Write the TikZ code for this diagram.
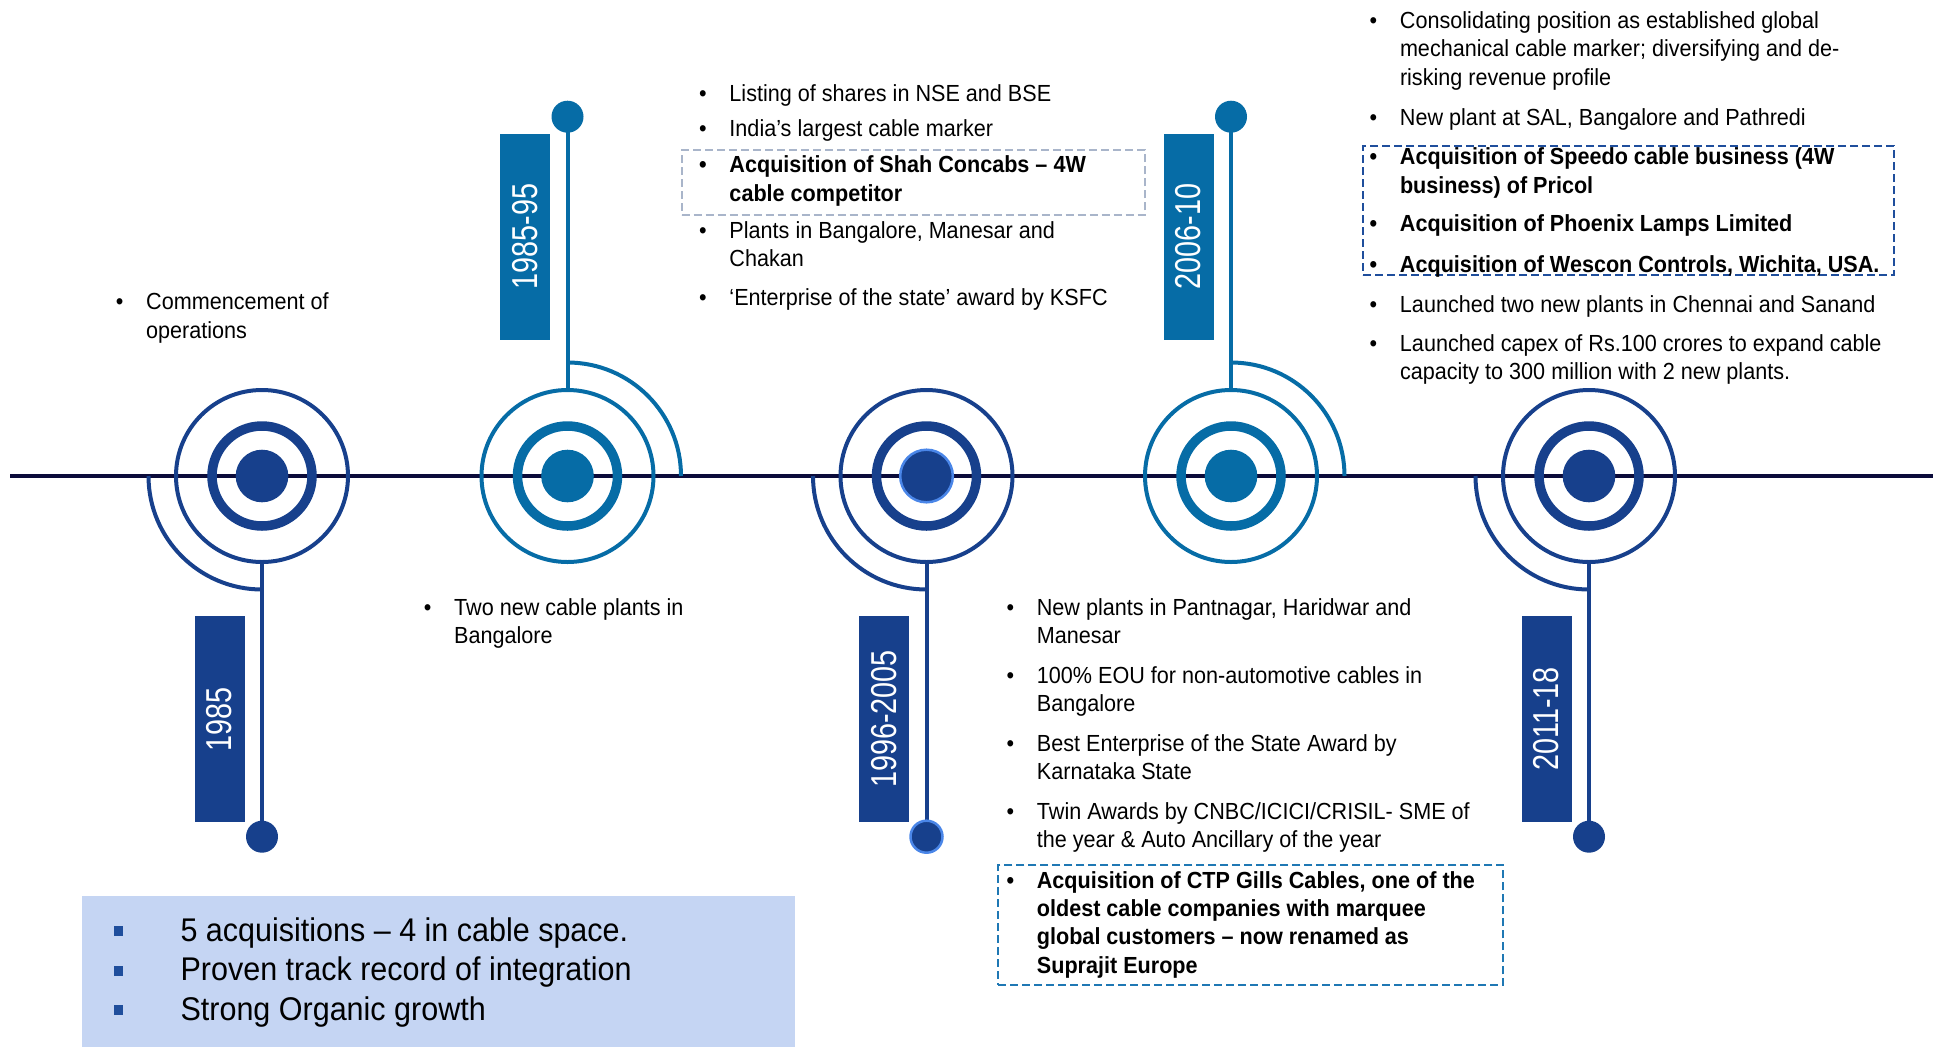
\documentclass[tikz,border=0pt]{standalone}
\usepackage{fontspec}
\setmainfont{Liberation Sans}
\usepackage{graphicx}
\definecolor{cdark}{HTML}{17408C}
\definecolor{cteal}{HTML}{066CA6}
\definecolor{cline}{HTML}{0B0B3A}
\definecolor{clight}{HTML}{4A86E8}
\definecolor{cbox}{HTML}{C5D5F3}
\definecolor{cdashA}{HTML}{A9B5CA}
\definecolor{cdashB}{HTML}{1F4E9C}
\definecolor{cdashC}{HTML}{1F78B4}
\definecolor{csq}{HTML}{1F4E9C}
\newcommand\bodyfont{\fontsize{23.3pt}{28.3pt}\selectfont}
\newcommand\bigfont{\fontsize{32.8pt}{39.5pt}\selectfont}
\newcommand\lblfont{\fontsize{36pt}{40pt}\selectfont}
\newcommand\bulletmark{\leavevmode\llap{\textbullet\hspace{24.5pt}}}
\newcommand\squaremark{\leavevmode\llap{\textcolor{csq}{\rule[5pt]{9.5pt}{10pt}}\hspace{62pt}}}
\begin{document}
\begin{tikzpicture}[x=1pt,y=-1pt,
  ringout/.style={circle, draw, line width=4pt, minimum size=172pt, inner sep=0pt, outer sep=0pt},
  ringmid/.style={circle, draw, line width=9.5pt, minimum size=100pt, inner sep=0pt, outer sep=0pt},
  core/.style={circle, fill, minimum size=52.6pt, inner sep=0pt},
  enddot/.style={circle, fill, minimum size=32pt, inner sep=0pt},
  stem/.style={line width=4pt},
  lbl/.style={rotate=90, minimum width=206pt, minimum height=50pt, inner sep=0pt, text=white, font=\lblfont},
  dbox/.style={rectangle, dash pattern=on 8pt off 4pt, line width=2pt, inner sep=0pt, anchor=north west},
  txtitem/.style={anchor=north west, yshift=19.81pt, inner sep=0pt, align=left, font=\bodyfont, xscale=0.927},
]
\useasboundingbox (0,0) rectangle (1933,1047);

% timeline
\coordinate (tlA) at (10,476);
\coordinate (tlB) at (1933,476);
\draw[cline, line width=4.5pt] (tlA) -- (tlB);

% milestone 1 : 1985
\node[ringout, draw=cdark] (o1) at (262,476) {};
\node[ringmid, draw=cdark] (m1) at (262,476) {};
\node[core, fill=cdark] (c1) at (262,476) {};
\node[enddot, fill=cdark] (e1) at (262,836.7) {};
\draw[stem, cdark] (o1.south) -- (e1.center);
\draw[stem, cdark] ([xshift=-113.5pt]o1.center) arc[start angle=180, end angle=90, radius=113.5];
\node[lbl, fill=cdark] (l1) at (219.5,719) {\scalebox{0.8}[1]{1985}};

% milestone 2 : 1985-95
\node[ringout, draw=cteal] (o2) at (567.5,476) {};
\node[ringmid, draw=cteal] (m2) at (567.5,476) {};
\node[core, fill=cteal] (c2) at (567.5,476) {};
\node[enddot, fill=cteal] (e2) at (567.5,116.7) {};
\draw[stem, cteal] (o2.north) -- (e2.center);
\draw[stem, cteal] ([yshift=113.5pt]o2.center) arc[start angle=270, end angle=360, radius=113.5];
\node[lbl, fill=cteal] (l2) at (525,236.7) {\scalebox{0.8}[1]{1985-95}};

% milestone 3 : 1996-2005
\node[ringout, draw=cdark] (o3) at (926.5,476) {};
\node[ringmid, draw=cdark] (m3) at (926.5,476) {};
\node[core, fill=cdark, draw=clight, line width=2.5pt] (c3) at (926.5,476) {};
\node[enddot, fill=cdark] (e3) at (926.5,836.7) {};
\draw[stem, cdark] (o3.south) -- (e3.center);
\node[enddot, fill=cdark, draw=clight, line width=2.5pt] (e3b) at (e3) {};
\draw[stem, cdark] ([xshift=-113.5pt]o3.center) arc[start angle=180, end angle=90, radius=113.5];
\node[lbl, fill=cdark] (l3) at (884,719) {\scalebox{0.8}[1]{1996-2005}};

% milestone 4 : 2006-10
\node[ringout, draw=cteal] (o4) at (1231,476) {};
\node[ringmid, draw=cteal] (m4) at (1231,476) {};
\node[core, fill=cteal] (c4) at (1231,476) {};
\node[enddot, fill=cteal] (e4) at (1231,116.7) {};
\draw[stem, cteal] (o4.north) -- (e4.center);
\draw[stem, cteal] ([yshift=113.5pt]o4.center) arc[start angle=270, end angle=360, radius=113.5];
\node[lbl, fill=cteal] (l4) at (1188.5,236.5) {\scalebox{0.8}[1]{2006-10}};

% milestone 5 : 2011-18
\node[ringout, draw=cdark] (o5) at (1589,476) {};
\node[ringmid, draw=cdark] (m5) at (1589,476) {};
\node[core, fill=cdark] (c5) at (1589,476) {};
\node[enddot, fill=cdark] (e5) at (1589,836.7) {};
\draw[stem, cdark] (o5.south) -- (e5.center);
\draw[stem, cdark] ([xshift=-113.5pt]o5.center) arc[start angle=180, end angle=90, radius=113.5];
\node[lbl, fill=cdark] (l5) at (1546.5,719) {\scalebox{0.8}[1]{2011-18}};

% dashed highlight boxes
\node[dbox, draw=cdashA, minimum width=463pt, minimum height=65pt] (b1) at (680.7,149.3) {};
\node[dbox, draw=cdashB, minimum width=531pt, minimum height=129pt] (b2) at (1362,145) {};
\node[dbox, draw=cdashC, minimum width=505pt, minimum height=120pt] (b3) at (997.3,864.3) {};

% texts: 1985
\node[txtitem] (t1) at (146,309.5) {\bulletmark\strut Commencement of\\operations};
% 1985-95 below
\node[txtitem] (t2) at (454,615) {\bulletmark\strut Two new cable plants in\\Bangalore};

% top middle column
\node[txtitem] (u1) at (729.3,101.7) {\bulletmark\strut Listing of shares in NSE and BSE};
\node[txtitem] (u2) at (729.3,136.7) {\bulletmark\strut India’s largest cable marker};
\node[txtitem, font=\bodyfont\bfseries] (u3) at (729.3,172.7) {\bulletmark\strut Acquisition of Shah Concabs – 4W\\cable competitor};
\node[txtitem] (u4) at (729.3,238.3) {\bulletmark\strut Plants in Bangalore, Manesar and\\Chakan};
\node[txtitem] (u5) at (729.3,305) {\bulletmark\strut ‘Enterprise of the state’ award by KSFC};

% top right column
\node[txtitem] (r1) at (1399.8,28.2) {\bulletmark\strut Consolidating position as established global\\mechanical cable marker; diversifying and de-\\risking revenue profile};
\node[txtitem] (r2) at (1399.8,125.6) {\bulletmark\strut New plant at SAL, Bangalore and Pathredi};
\node[txtitem, font=\bodyfont\bfseries] (r3) at (1399.8,164.5) {\bulletmark\strut Acquisition of Speedo cable business (4W\\business) of Pricol};
\node[txtitem, font=\bodyfont\bfseries] (r4) at (1399.8,231.6) {\bulletmark\strut Acquisition of Phoenix Lamps Limited};
\node[txtitem, font=\bodyfont\bfseries] (r5) at (1399.8,272) {\bulletmark\strut Acquisition of Wescon Controls, Wichita, USA.};
\node[txtitem] (r6) at (1399.8,311.8) {\bulletmark\strut Launched two new plants in Chennai and Sanand};
\node[txtitem] (r7) at (1399.8,351.3) {\bulletmark\strut Launched capex of Rs.100 crores to expand cable\\capacity to 300 million with 2 new plants.};

% bottom middle column
\node[txtitem] (d1) at (1036.7,615) {\bulletmark\strut New plants in Pantnagar, Haridwar and\\Manesar};
\node[txtitem] (d2) at (1036.7,683) {\bulletmark\strut 100\% EOU for non-automotive cables in\\Bangalore};
\node[txtitem] (d3) at (1036.7,751) {\bulletmark\strut Best Enterprise of the State Award by\\Karnataka State};
\node[txtitem] (d4) at (1036.7,819) {\bulletmark\strut Twin Awards by CNBC/ICICI/CRISIL- SME of\\the year \& Auto Ancillary of the year};
\node[txtitem, font=\bodyfont\bfseries] (d5) at (1036.7,888) {\bulletmark\strut Acquisition of CTP Gills Cables, one of the\\oldest cable companies with marquee\\global customers – now renamed as\\Suprajit Europe};

% summary box
\node[rectangle, fill=cbox, inner sep=0pt, anchor=north west, minimum width=713pt, minimum height=151pt] (sum) at (82,896) {};
\node[anchor=north west, yshift=27.65pt, inner sep=0pt, align=left, font=\bigfont, xscale=0.93] (sumtxt) at (180.4,941) {\squaremark\strut 5 acquisitions – 4 in cable space.\\\squaremark Proven track record of integration\\\squaremark Strong Organic growth};
\end{tikzpicture}
\end{document}
